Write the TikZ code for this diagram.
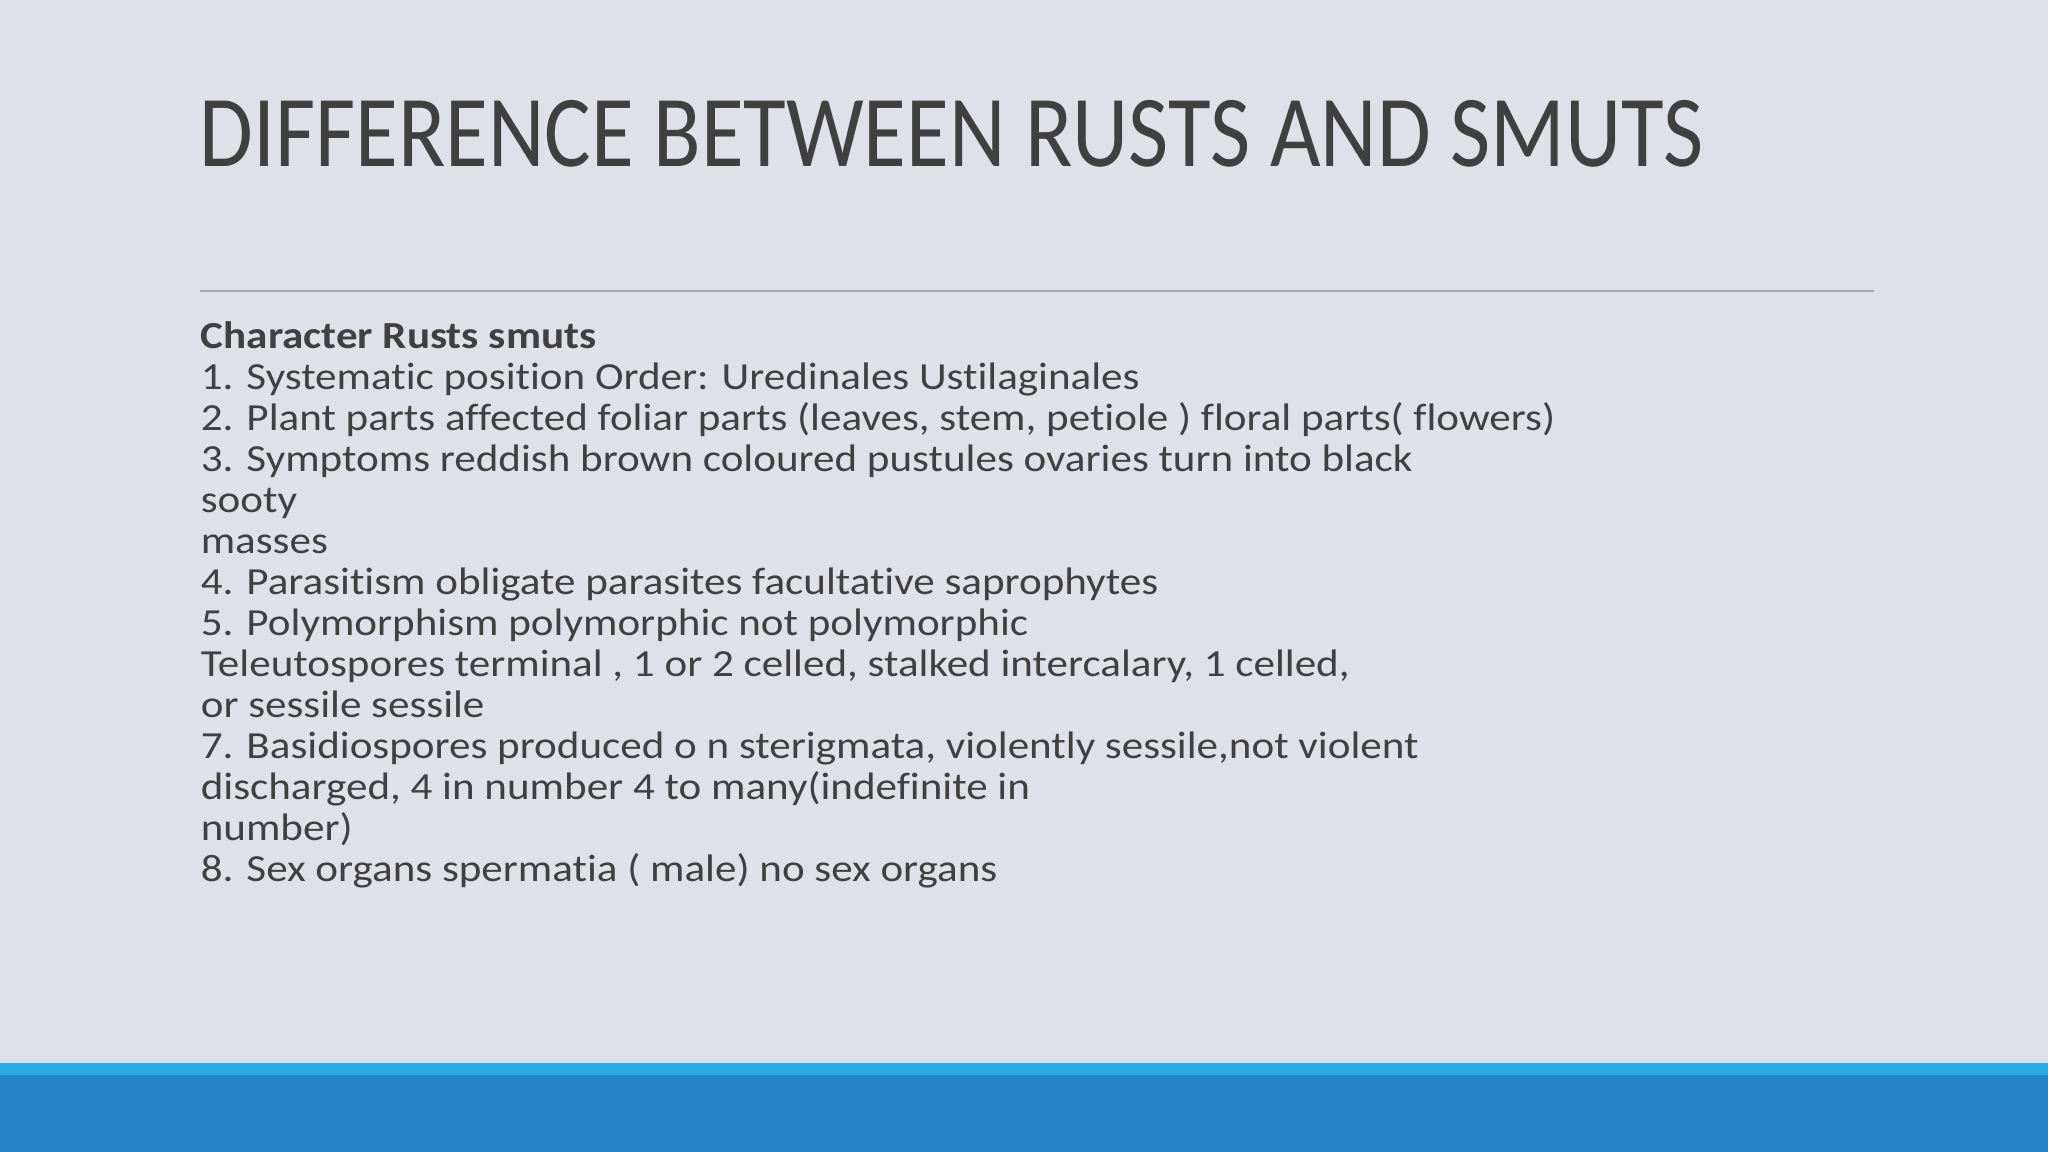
\documentclass[tikz,border=0pt]{standalone}
\usepackage{fontspec}
\setmainfont[Ligatures={NoCommon,NoRare}]{Carlito}
\definecolor{bg}{HTML}{DEE2E8}
\definecolor{txt}{HTML}{404040}
\definecolor{lblue}{HTML}{29ABE2}
\definecolor{dblue}{HTML}{2483C5}
\tikzset{line/.style={anchor=base west,inner sep=0pt,text=txt,xscale=1.125,font=\fontsize{10.9pt}{12pt}\selectfont}}
\begin{document}
\begin{tikzpicture}[x=1cm,y=1cm]
\fill[bg] (0,0) rectangle (20.48,11.52);
\useasboundingbox (0,0) rectangle (20.48,11.52);
\fill[lblue] (0,0) rectangle (20.48,0.89);
\fill[dblue] (0,0) rectangle (20.48,0.77);
\node[anchor=base west,inner sep=0pt,text=txt,xscale=0.857,font=\fontsize{29pt}{32pt}\selectfont] (title) at (1.99,9.85) {DIFFERENCE BETWEEN RUSTS AND SMUTS};
\draw[gray!70,line width=0.5pt] (2.0,8.61) -- (18.74,8.61);
\foreach \t [count=\i from 0] in {%
{\textbf{Character Rusts smuts}},
{1. Systematic position Order: Uredinales Ustilaginales},
{2. Plant parts affected foliar parts (leaves, stem, petiole ) floral parts( flowers)},
{3. Symptoms reddish brown coloured pustules ovaries turn into black},
{sooty},
{masses},
{4. Parasitism obligate parasites facultative saprophytes},
{5. Polymorphism polymorphic not polymorphic},
{Teleutospores terminal , 1 or 2 celled, stalked intercalary, 1 celled,},
{or sessile sessile},
{7. Basidiospores produced o n sterigmata, violently sessile,not violent},
{discharged, 4 in number 4 to many(indefinite in},
{number)},
{8. Sex organs spermatia ( male) no sex organs}}
  \node[line] (l\i) at (2.0,{8.03-0.41*\i}) {\t};
\end{tikzpicture}
\end{document}
